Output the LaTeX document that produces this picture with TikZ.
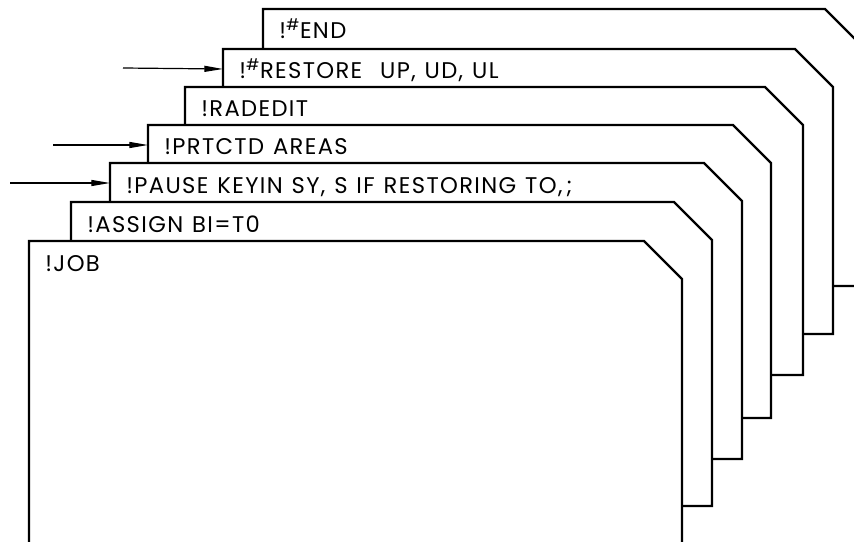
\documentclass[tikz,border=0pt]{standalone}
\usepackage{fontspec}
\setmainfont[LetterSpace=6, WordSpace=1.2]{Poppins}
\usepackage{tikz}
\usetikzlibrary{arrows.meta, positioning, calc}
\tikzset{
  card/.style={draw=black, fill=white, line width=1.8pt, line join=miter},
  cardtext/.style={anchor=base west, inner sep=0pt, font=\fontsize{17}{20}\selectfont},
  arrow/.style={-{Triangle[length=14pt, width=4.5pt]}, line width=0.9pt}
}
\newcommand{\hsh}{\textsuperscript{\#}}

\begin{document}
\begin{tikzpicture}[x=0.75pt, y=-0.75pt]
\useasboundingbox (0,0) rectangle (854,542);
\clip (0,0) rectangle (854,542);
% cards, back to front
\foreach \nm/\lx/\ty/\rx/\by/\txt in {
  end/263/9/863/286/{!\hsh END},
  restore/223/49/833/334/{!\hsh RESTORE\ \ UP, UD, UL},
  radedit/185/87/803/375/{!RADEDIT},
  prtctd/148/125/771/418/{!PRTCTD AREAS},
  pause/110/163/742/459/{!PAUSE KEYIN SY, S IF RESTORING TO,\,;},
  assign/71/202/712/506/{!ASSIGN BI=T0},
  job/29/241/682/600/{!JOB}}
{
  \draw[card] (\lx,\ty) -- ({\rx-38},\ty) -- (\rx,{\ty+38}) -- (\rx,\by) -- (\lx,\by) -- cycle;
  \node[cardtext] (\nm) at ({\lx+16},{\ty+30}) {\txt};
  \coordinate (\nm-w) at (\lx,{\ty+20});
}
% pointers
\coordinate (restore-t) at (123,68);
\coordinate (prtctd-t)  at (53,145);
\coordinate (pause-t)   at (10,183);
\draw[arrow] (restore-t) -- (restore-w);
\draw[arrow] (prtctd-t)  -- (prtctd-w);
\draw[arrow] (pause-t)   -- (pause-w);
\end{tikzpicture}
\end{document}
